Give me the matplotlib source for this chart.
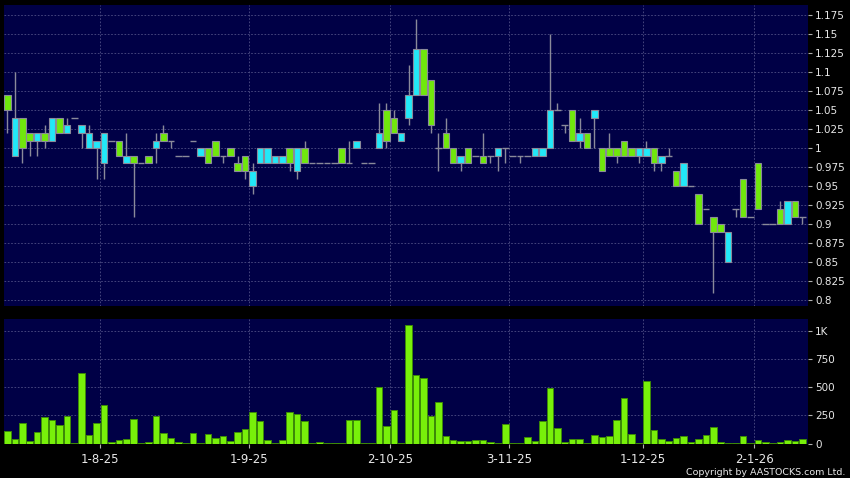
import matplotlib

matplotlib.use("Agg")

import matplotlib.pyplot as plt
import numpy as np
from matplotlib.ticker import FixedLocator, FuncFormatter


# daily candles, oldest first (index = trading day)
opens = [
    1.07, 0.99, 1.04, 1.02, 1.01, 1.02, 1.01, 1.04, 1.02, 1.04,
    1.02, 1.00, 1.00, 0.98, 1.01, 1.01, 0.98, 0.99, 0.98, 0.99,
    1.00, 1.02, 1.01, 0.99, 0.99, 1.01, 0.99, 1.00, 1.01, 0.99,
    1.00, 0.98, 0.99, 0.95, 0.98, 0.98, 0.98, 0.98, 1.00, 0.97,
    1.00, 0.98, 0.98, 0.98, 0.98, 1.00, 0.98, 1.00, 0.98, 0.98,
    1.00, 1.05, 1.04, 1.01, 1.04, 1.07, 1.13, 1.09, 1.00, 1.02,
    1.00, 0.98, 1.00, 0.99, 0.99, 0.99, 0.99, 1.00, 0.99, 0.99,
    0.99, 0.99, 0.99, 1.00, 1.05, 1.03, 1.05, 1.01, 1.02, 1.04,
    1.00, 1.00, 1.00, 1.01, 1.00, 0.99, 0.99, 1.00, 0.98, 0.99,
    0.97, 0.95, 0.95, 0.94, 0.92, 0.91, 0.90, 0.85, 0.92, 0.96,
    0.91, 0.98, 0.90, 0.90, 0.92, 0.90, 0.93, 0.91,
]
highs = [
    1.07, 1.10, 1.04, 1.02, 1.02, 1.03, 1.04, 1.04, 1.04, 1.04,
    1.03, 1.03, 1.01, 1.02, 1.01, 1.01, 1.02, 0.99, 0.98, 0.99,
    1.02, 1.03, 1.01, 0.99, 0.99, 1.01, 1.00, 1.00, 1.01, 0.99,
    1.00, 0.99, 0.99, 0.98, 1.00, 1.00, 0.99, 0.99, 1.00, 1.00,
    1.01, 0.98, 0.98, 0.98, 0.98, 1.00, 1.01, 1.01, 0.98, 0.98,
    1.06, 1.06, 1.05, 1.02, 1.11, 1.17, 1.13, 1.09, 1.02, 1.04,
    1.00, 0.99, 1.00, 0.99, 1.02, 0.99, 1.00, 1.00, 0.99, 0.99,
    0.99, 1.00, 1.00, 1.15, 1.06, 1.03, 1.05, 1.04, 1.02, 1.05,
    1.00, 1.02, 1.00, 1.01, 1.00, 1.00, 1.01, 1.00, 0.99, 1.00,
    0.97, 0.98, 0.95, 0.94, 0.92, 0.91, 0.90, 0.89, 0.92, 0.96,
    0.91, 0.98, 0.90, 0.90, 0.93, 0.93, 0.93, 0.91,
]
lows = [
    1.02, 0.99, 0.98, 0.99, 0.99, 1.00, 1.01, 1.02, 1.02, 1.04,
    1.00, 1.00, 0.96, 0.96, 1.01, 0.99, 0.98, 0.91, 0.98, 0.98,
    0.98, 1.01, 1.00, 0.99, 0.99, 1.01, 0.99, 0.98, 0.99, 0.98,
    0.99, 0.97, 0.96, 0.94, 0.98, 0.98, 0.98, 0.98, 0.97, 0.96,
    0.98, 0.98, 0.98, 0.98, 0.98, 0.98, 0.98, 1.00, 0.98, 0.98,
    1.00, 1.00, 1.02, 1.01, 1.03, 1.07, 1.07, 1.02, 0.97, 1.00,
    0.98, 0.97, 0.98, 0.99, 0.98, 0.98, 0.97, 0.98, 0.99, 0.98,
    0.99, 0.99, 0.99, 1.00, 1.05, 1.02, 1.01, 1.00, 1.00, 1.00,
    0.97, 0.99, 0.98, 0.99, 0.99, 0.98, 0.99, 0.97, 0.97, 0.99,
    0.95, 0.95, 0.95, 0.90, 0.92, 0.81, 0.89, 0.85, 0.91, 0.91,
    0.91, 0.92, 0.90, 0.90, 0.90, 0.90, 0.91, 0.90,
]
closes = [
    1.05, 1.04, 1.00, 1.01, 1.02, 1.01, 1.04, 1.02, 1.03, 1.04,
    1.03, 1.02, 1.01, 1.02, 1.01, 0.99, 0.99, 0.98, 0.98, 0.98,
    1.01, 1.01, 1.01, 0.99, 0.99, 1.01, 1.00, 0.98, 0.99, 0.99,
    0.99, 0.97, 0.97, 0.97, 1.00, 1.00, 0.99, 0.99, 0.98, 1.00,
    0.98, 0.98, 0.98, 0.98, 0.98, 0.98, 0.98, 1.01, 0.98, 0.98,
    1.02, 1.01, 1.02, 1.02, 1.07, 1.13, 1.07, 1.03, 1.00, 1.00,
    0.98, 0.99, 0.98, 0.99, 0.98, 0.99, 1.00, 1.00, 0.99, 0.99,
    0.99, 1.00, 1.00, 1.05, 1.05, 1.03, 1.01, 1.02, 1.00, 1.05,
    0.97, 0.99, 0.99, 0.99, 0.99, 1.00, 1.00, 0.98, 0.99, 0.99,
    0.95, 0.98, 0.95, 0.90, 0.92, 0.89, 0.89, 0.89, 0.92, 0.91,
    0.91, 0.92, 0.90, 0.90, 0.90, 0.93, 0.91, 0.91,
]
volumes = [
    112, 38, 183, 27, 100, 237, 213, 163, 246, 9,
    624, 74, 186, 346, 15, 30, 38, 222, 2, 12,
    246, 98, 50, 12, 6, 98, 2, 83, 47, 68,
    20, 104, 133, 281, 198, 30, 2, 30, 281, 260,
    198, 1, 18, 9, 3, 1, 207, 207, 9, 3,
    503, 157, 296, 9, 1050, 607, 580, 243, 367, 71,
    33, 24, 24, 36, 30, 18, 2, 172, 3, 9,
    62, 21, 204, 491, 136, 15, 44, 41, 9, 74,
    59, 65, 207, 402, 83, 3, 559, 118, 41, 27,
    53, 71, 15, 41, 80, 145, 15, 9, 1, 65,
    2, 30, 18, 9, 18, 30, 24, 41,
]

# first trading day index of each labelled date
date_labels = ["1-8-25", "1-9-25", "2-10-25", "3-11-25", "1-12-25", "2-1-26"]
date_index = [12.5, 32.5, 51.5, 67.5, 85.5, 100.5]

price_ticks = [0.8, 0.825, 0.85, 0.875, 0.9, 0.925, 0.95, 0.975, 1.0,
               1.025, 1.05, 1.075, 1.1, 1.125, 1.15, 1.175]
volume_ticks = [0, 250, 500, 750, 1000]

BG = "#000000"
PANEL = "#000046"
GRID = "#4f4f86"
UP = "#22e8f8"
DOWN = "#70e80c"
EDGE = "#8a8a9a"
TEXT = "#e8e8e8"


def style_axis(ax):
    ax.set_facecolor(PANEL)
    for s in ax.spines.values():
        s.set_visible(False)
    ax.yaxis.tick_right()
    ax.tick_params(axis="y", colors="#b0b0b0", labelcolor=TEXT, length=3,
                   width=0.8, pad=2, labelsize=7.5)
    ax.grid(True, color=GRID, linestyle=(0, (2, 2)), linewidth=0.6)
    ax.set_axisbelow(True)
    ax.set_xlim(-0.46, 107.75)
    ax.xaxis.set_major_locator(FixedLocator(date_index))


fig = plt.figure(figsize=(8.5, 4.78), dpi=100, facecolor=BG)
plt.rcParams["font.family"] = ["DejaVu Sans"]

ax = fig.add_axes([0.0047, 0.3598, 0.9459, 0.6291])
vax = fig.add_axes([0.0047, 0.0711, 0.9459, 0.2615])
style_axis(ax)
style_axis(vax)

o = np.array(opens)
h = np.array(highs)
l = np.array(lows)
c = np.array(closes)
x = np.arange(len(o))
w = 0.88

ax.vlines(x, l, h, color=EDGE, linewidth=1.0, zorder=2)
body = c != o
colors = np.where(c > o, UP, DOWN)
ax.bar(x[body], np.abs(c - o)[body], bottom=np.minimum(o, c)[body], width=w,
       color=colors[body], edgecolor=EDGE, linewidth=0.8, zorder=3)
ax.hlines(o[~body], x[~body] - w / 2, x[~body] + w / 2, color=EDGE,
          linewidth=1.0, zorder=3)

ax.set_ylim(0.7925, 1.188)
ax.yaxis.set_major_locator(FixedLocator(price_ticks))
ax.yaxis.set_major_formatter(FuncFormatter(lambda v, p: f"{v:g}"))
ax.tick_params(axis="x", length=0, labelbottom=False)

vax.bar(x, volumes, width=w, color="#78f00a", edgecolor="#3d8a08",
        linewidth=0.7, zorder=3)
vax.set_ylim(-4, 1104)
vax.yaxis.set_major_locator(FixedLocator(volume_ticks))
vax.yaxis.set_major_formatter(
    FuncFormatter(lambda v, p: "1K" if v >= 1000 else f"{v:g}"))
vax.set_xticklabels(date_labels)
vax.tick_params(axis="x", colors="#b0b0b0", labelcolor=TEXT, length=3,
                width=0.8, pad=3.5, labelsize=8.5)

fig.text(0.994, 0.002, "Copyright by AASTOCKS.com Ltd.", ha="right",
         va="bottom", color=TEXT, fontsize=6.8)

fig.savefig("out.png", dpi=100, facecolor=BG)
